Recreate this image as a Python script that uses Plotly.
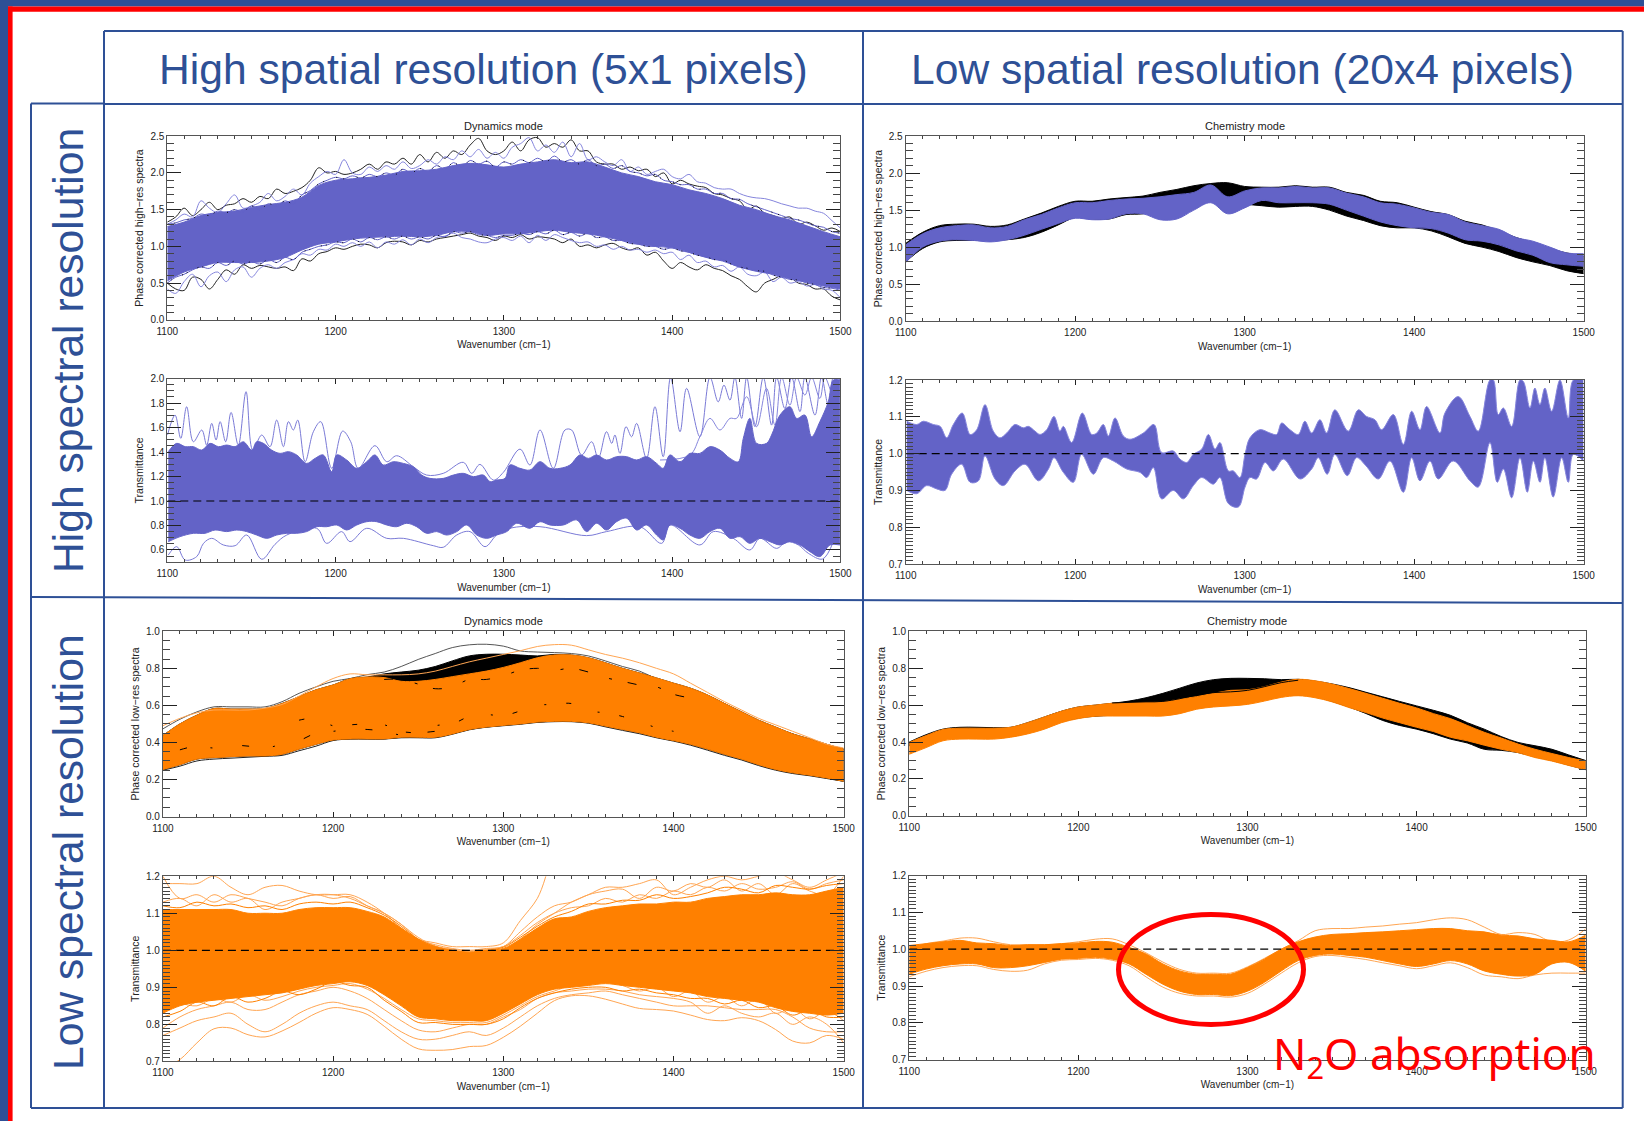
import plotly.graph_objects as go

WN10 = list(range(1100, 1510, 10))
WN5 = list(range(1100, 1505, 5))

# --- High spectral / high spatial : spectra
hi_dyn_upper = [1.27,1.33,1.42,1.46,1.48,1.53,1.57,1.60,1.67,1.83,1.90,1.92,1.94,1.97,2.02,2.03,2.05,2.10,2.13,2.11,2.08,2.12,2.15,2.18,2.14,2.15,2.08,2.00,1.95,1.88,1.84,1.77,1.72,1.65,1.56,1.50,1.42,1.36,1.28,1.20,1.13]
hi_dyn_lower = [0.53,0.65,0.72,0.78,0.78,0.78,0.80,0.85,0.95,1.03,1.06,1.10,1.12,1.13,1.14,1.13,1.15,1.20,1.20,1.15,1.17,1.17,1.20,1.22,1.19,1.17,1.13,1.08,1.03,1.00,0.98,0.92,0.85,0.80,0.72,0.66,0.62,0.56,0.51,0.46,0.42]
hi_dyn_fuzz_top = [1.30,1.32,1.36,1.38,1.44,1.42,1.48,1.46,1.50,1.47,1.55,1.50,1.58,1.55,1.62,1.58,1.70,1.76,1.85,1.90,1.94,1.92,1.96,1.93,1.98,1.95,2.00,1.97,2.05,2.00,2.06,2.02,2.10,2.05,2.14,2.08,2.17,2.12,2.16,2.08,2.15,2.12,2.18,2.14,2.20,2.15,2.23,2.15,2.18,2.12,2.18,2.10,2.12,2.06,2.10,2.02,2.00,1.96,1.98,1.90,1.88,1.84,1.84,1.78,1.78,1.72,1.72,1.65,1.64,1.58,1.54,1.50,1.46,1.42,1.38,1.36,1.32,1.28,1.26,1.20,1.18]
hi_dyn_fuzz_bot = [0.50,0.58,0.62,0.68,0.72,0.70,0.78,0.74,0.80,0.76,0.79,0.76,0.82,0.78,0.85,0.82,0.92,0.96,1.00,1.02,1.06,1.05,1.10,1.06,1.12,1.09,1.13,1.10,1.14,1.10,1.13,1.10,1.15,1.13,1.20,1.18,1.20,1.16,1.15,1.12,1.15,1.15,1.18,1.16,1.20,1.17,1.22,1.16,1.19,1.14,1.18,1.12,1.13,1.08,1.08,1.04,1.03,1.00,1.00,0.96,0.98,0.94,0.92,0.88,0.86,0.82,0.82,0.76,0.72,0.70,0.67,0.66,0.61,0.58,0.55,0.54,0.50,0.48,0.44,0.43,0.40]
hi_dyn_black_top = [1.33,1.40,1.52,1.42,1.50,1.60,1.50,1.56,1.58,1.65,1.60,1.68,1.65,1.78,1.72,1.75,1.80,1.90,2.07,2.00,2.02,1.98,2.00,2.05,2.12,2.05,2.15,2.12,2.20,2.12,2.25,2.15,2.28,2.20,2.30,2.25,2.38,2.47,2.30,2.25,2.30,2.42,2.30,2.45,2.48,2.35,2.40,2.35,2.45,2.30,2.30,2.15,2.12,2.12,2.05,2.08,2.03,2.05,1.95,2.00,1.85,1.90,1.85,1.82,1.80,1.72,1.70,1.65,1.62,1.50,1.55,1.45,1.42,1.38,1.40,1.30,1.33,1.28,1.22,1.25,1.20]
hi_dyn_black_bot = [0.50,0.42,0.40,0.58,0.55,0.42,0.55,0.68,0.62,0.75,0.70,0.74,0.72,0.70,0.72,0.67,0.83,0.80,0.90,0.93,0.98,0.96,1.00,1.03,1.02,0.98,1.05,1.07,1.06,1.02,1.08,1.06,1.10,1.12,1.14,1.16,1.18,1.14,1.12,1.08,1.14,1.12,1.16,1.10,1.13,1.12,1.10,1.05,1.10,1.00,1.02,0.98,1.02,1.04,0.98,0.95,0.98,0.88,0.92,0.80,0.70,0.78,0.72,0.68,0.75,0.70,0.67,0.60,0.55,0.45,0.38,0.50,0.55,0.60,0.58,0.50,0.48,0.42,0.42,0.32,0.27]
hi_dyn_violet_top = [1.30,1.36,1.44,1.40,1.62,1.52,1.46,1.58,1.70,1.52,1.55,1.60,1.72,1.62,1.68,1.78,1.70,1.86,1.95,2.02,1.98,2.18,2.00,1.98,2.08,2.02,2.10,2.05,2.15,2.06,2.10,2.18,2.12,2.22,2.18,2.30,2.22,2.32,2.20,2.28,2.20,2.35,2.40,2.48,2.30,2.38,2.28,2.42,2.22,2.40,2.18,2.22,2.15,2.10,2.18,2.02,2.08,1.98,2.02,2.05,1.95,1.92,1.98,1.88,1.86,1.80,1.78,1.78,1.72,1.68,1.66,1.65,1.62,1.58,1.55,1.52,1.52,1.48,1.45,1.35,1.25]
hi_dyn_violet_bot = [0.42,0.36,0.52,0.62,0.45,0.60,0.65,0.52,0.68,0.72,0.58,0.70,0.75,0.70,0.78,0.82,0.90,0.88,0.96,0.95,1.03,1.00,1.05,1.00,1.06,0.98,1.06,1.03,1.09,1.02,1.10,1.05,1.12,1.14,1.18,1.12,1.10,1.06,1.05,1.10,1.12,1.08,1.14,1.05,1.15,1.08,1.16,1.12,1.08,1.05,1.06,1.00,1.02,0.96,1.00,0.95,0.96,0.92,0.95,0.90,0.92,0.82,0.88,0.78,0.80,0.72,0.74,0.66,0.72,0.62,0.60,0.65,0.52,0.58,0.50,0.52,0.46,0.48,0.42,0.40,0.30]

# --- High spectral / high spatial : transmittance
hi_dyn_tr_up_x = [1100.6,1105.6,1110.6,1115.5,1120.5,1125.4,1130.4,1135.3,1140.3,1145.2,1150.2,1153.1,1157.1,1162,1167,1172,1176.9,1182.8,1187.8,1192.7,1197.7,1200.7,1206.6,1212.6,1218.5,1223.4,1228.4,1234.3,1240.3,1246.2,1251.2,1256.1,1264,1270,1275.9,1281.9,1287.8,1291.8,1295.7,1300.7,1303.6,1309.6,1315.5,1321.5,1327.4,1333.4,1339.3,1345.2,1350.2,1355.1,1361,1367,1373,1378.9,1384.8,1390.8,1394.7,1398.7,1404.7,1410.6,1416.5,1422.5,1428.4,1434.4,1439.3,1442.3,1446.2,1450.2,1456.1,1459.1,1464.1,1470,1474,1478.9,1482.9,1487.8,1492.8,1495.8,1499.7]
hi_dyn_tr_up = [1.403,1.471,1.444,1.444,1.416,1.471,1.444,1.457,1.444,1.484,1.416,1.484,1.471,1.416,1.389,1.403,1.376,1.307,1.348,1.376,1.239,1.376,1.335,1.267,1.321,1.376,1.294,1.321,1.307,1.28,1.212,1.185,1.185,1.212,1.226,1.199,1.212,1.158,1.171,1.185,1.294,1.267,1.253,1.321,1.267,1.267,1.294,1.376,1.348,1.376,1.335,1.362,1.362,1.335,1.362,1.307,1.267,1.376,1.321,1.389,1.389,1.444,1.416,1.348,1.321,1.512,1.675,1.471,1.471,1.539,1.702,1.77,1.675,1.702,1.525,1.648,1.811,1.988,1.988]
hi_dyn_tr_lo_x = [1100.6,1107.6,1115.5,1122.4,1128.4,1135.3,1141.3,1147.2,1153.1,1159.1,1165,1171,1176.9,1182.8,1188.8,1194.7,1200.7,1206.6,1212.6,1218.5,1224.4,1230.4,1236.3,1242.3,1248.2,1254.1,1260.1,1266,1272,1277.9,1283.9,1289.8,1295.7,1301.7,1307.6,1315.5,1321.5,1327.4,1335.3,1343.3,1349.2,1355.1,1361,1367,1373,1378.9,1384.8,1390.8,1394.7,1398.7,1404.7,1410.6,1416.5,1422.5,1428.4,1434.4,1440.3,1446.2,1452.2,1458.1,1464.1,1470,1476,1481.9,1487.8,1493.8,1499.7]
hi_dyn_tr_lo = [0.668,0.709,0.736,0.736,0.763,0.75,0.763,0.75,0.722,0.695,0.722,0.736,0.736,0.75,0.79,0.79,0.804,0.763,0.804,0.831,0.831,0.804,0.79,0.818,0.79,0.736,0.75,0.722,0.75,0.804,0.722,0.695,0.722,0.75,0.818,0.777,0.831,0.804,0.804,0.845,0.75,0.818,0.763,0.831,0.859,0.763,0.804,0.722,0.682,0.804,0.777,0.722,0.695,0.75,0.777,0.695,0.709,0.654,0.695,0.668,0.641,0.668,0.641,0.586,0.546,0.641,0.641]
hi_dyn_tr_line_top_x = [1100.1,1104.6,1108,1111.5,1115.5,1120.5,1123.4,1126.4,1129,1131.4,1134.7,1137.9,1142.2,1146.8,1150.8,1156.1,1161,1165,1169,1172,1174.9,1177.5,1181.9,1186.8,1191.2,1197.7,1204.2,1209,1213.5,1223.4,1230.4,1236.3,1246.2,1254.1,1264,1275.9,1280.9,1285.8,1293.8,1299.7,1309.6,1315.5,1321.5,1329.4,1336.3,1340.3,1346.2,1352.2,1356.1,1361,1364.1,1366,1369,1372.6,1375.9,1378.9,1384.8,1389.8,1394.7,1399.1,1404.7,1408.6,1416.5,1422.5,1427.4,1430.8,1434.4,1437.3,1441.3,1444.3,1449.2,1454.2,1459.1,1462.1,1467,1471,1476,1478.9,1484.9,1488.8,1492.8,1495.8,1499.7]
hi_dyn_tr_line_top = [1.539,1.702,1.512,1.77,1.484,1.58,1.457,1.634,1.498,1.648,1.484,1.724,1.457,1.893,1.416,1.539,1.444,1.661,1.444,1.648,1.58,1.661,1.321,1.566,1.648,1.267,1.571,1.484,1.267,1.452,1.321,1.37,1.28,1.212,1.226,1.316,1.226,1.299,1.171,1.234,1.424,1.294,1.58,1.267,1.58,1.58,1.376,1.484,1.348,1.566,1.471,1.539,1.389,1.607,1.525,1.634,1.348,1.77,1.362,2.01,1.566,1.92,1.525,2.01,1.81,1.947,1.824,2.01,1.675,2.01,1.607,2.01,1.62,2.01,1.756,2.01,1.73,2.01,1.702,2.01,1.784,2.01,1.865]
hi_dyn_tr_line_2_x = [1392.8,1410.6,1416.5,1422.5,1428.4,1434.4,1438.3,1444.3,1450.2,1456.1,1461.1,1465.1,1470,1474,1478.9,1482.9,1487.8,1490.8,1495.8,1499.7]
hi_dyn_tr_line_2 = [1.335,1.376,1.525,1.675,1.58,1.675,1.675,1.852,1.607,1.92,1.62,2.01,1.784,2.01,1.865,2.01,1.838,2.01,1.865,2.01]
hi_dyn_tr_line_bot_x = [1100.6,1105.6,1110.6,1117.5,1121.5,1126.4,1133.3,1140.3,1147.2,1156.1,1164,1171,1188.8,1194.7,1203.6,1208.6,1218.5,1230.4,1240.3,1258.1,1264,1272,1279.9,1288.8,1295.7,1303.6,1321.5,1349.2,1361,1380.9,1393.8,1398.7,1416.5,1424.5,1436.3,1446.2,1452.2,1462.1,1468,1475,1480.9,1489.4,1495.8]
hi_dyn_tr_line_bot = [0.559,0.627,0.518,0.546,0.654,0.695,0.641,0.635,0.722,0.524,0.646,0.722,0.777,0.654,0.75,0.668,0.777,0.695,0.695,0.635,0.622,0.722,0.75,0.627,0.722,0.777,0.79,0.717,0.75,0.79,0.654,0.804,0.641,0.75,0.695,0.6,0.695,0.613,0.668,0.641,0.573,0.526,0.668]

# --- High spectral / low spatial : spectra
hi_chem_upper = [1.03,1.18,1.26,1.29,1.30,1.26,1.28,1.37,1.44,1.53,1.60,1.60,1.63,1.65,1.66,1.68,1.71,1.74,1.84,1.68,1.76,1.80,1.80,1.82,1.80,1.80,1.73,1.68,1.60,1.58,1.53,1.47,1.44,1.34,1.29,1.24,1.13,1.08,1.00,0.92,0.91]
hi_chem_lower = [0.79,1.00,1.08,1.10,1.09,1.07,1.10,1.16,1.24,1.32,1.39,1.37,1.38,1.45,1.45,1.37,1.38,1.50,1.60,1.45,1.53,1.63,1.60,1.60,1.60,1.58,1.50,1.42,1.34,1.29,1.26,1.25,1.19,1.10,1.08,1.03,0.95,0.89,0.79,0.76,0.74]
hi_chem_black_upper = [1.05,1.20,1.29,1.31,1.31,1.28,1.30,1.38,1.46,1.55,1.62,1.62,1.65,1.67,1.69,1.74,1.78,1.83,1.86,1.87,1.82,1.81,1.81,1.83,1.81,1.81,1.74,1.70,1.62,1.60,1.54,1.48,1.44,1.35,1.30,1.22,1.13,1.06,0.98,0.92,0.88]
hi_chem_black_lower = [0.80,0.98,1.07,1.09,1.09,1.09,1.10,1.13,1.20,1.30,1.40,1.38,1.38,1.44,1.45,1.50,1.52,1.58,1.62,1.60,1.58,1.56,1.54,1.55,1.55,1.50,1.42,1.36,1.29,1.26,1.26,1.22,1.14,1.05,1.00,0.94,0.86,0.80,0.75,0.68,0.64]

# --- High spectral / low spatial : transmittance
hi_chem_tr_up_x = [1100.6,1106.5,1110.4,1116.3,1120.3,1124.2,1128.1,1133.4,1138,1141.9,1146.8,1151.7,1155.7,1159.6,1164.5,1169.4,1172.4,1176.3,1179.3,1183.2,1187.5,1191,1193,1197.9,1204.2,1209.7,1212.7,1216.6,1219.6,1223.5,1228.4,1232.3,1240.2,1246.5,1251,1257.9,1261.8,1265.8,1269.7,1274.6,1278.6,1282.5,1285.4,1290.4,1293.3,1297.2,1300.2,1303.1,1309,1314.9,1318.8,1321.8,1326.7,1331.6,1335.5,1339.5,1344.4,1348.3,1353.2,1361.1,1367,1371.9,1376.8,1380.8,1387.7,1393.6,1398.5,1403.4,1407.3,1415.2,1418.1,1426,1432.9,1437.8,1444.7,1446.7,1449.6,1452.6,1457.5,1462.4,1464.4,1468.3,1471.2,1474.2,1477.1,1481.1,1486,1490.9,1493.9,1499.8]
hi_chem_tr_up = [1.088,1.079,1.088,1.079,1.074,1.043,1.079,1.11,1.052,1.065,1.133,1.061,1.043,1.056,1.079,1.07,1.074,1.061,1.052,1.065,1.101,1.061,1.074,1.03,1.11,1.052,1.056,1.079,1.048,1.097,1.048,1.039,1.056,1.079,1.003,1.007,0.985,0.976,0.998,1.012,1.052,1.012,1.03,0.953,0.953,0.935,0.998,1.043,1.065,1.056,1.052,1.083,1.065,1.052,1.088,1.056,1.092,1.056,1.119,1.061,1.119,1.101,1.092,1.065,1.106,1.025,1.115,1.065,1.128,1.056,1.11,1.155,1.101,1.061,1.2,1.2,1.106,1.124,1.074,1.2,1.196,1.124,1.178,1.133,1.178,1.115,1.2,1.097,1.2,1.2]
hi_chem_tr_lo_x = [1100.6,1106.5,1112.4,1118.3,1123.2,1127.1,1133,1138,1142.9,1146.8,1152.7,1157.6,1164.5,1170.4,1178.3,1184.2,1187.5,1193,1198.9,1203.8,1210.7,1216.6,1222.5,1230.4,1238.2,1242.2,1246.1,1251,1257.9,1263.8,1269.7,1274.6,1281.5,1285.4,1290.4,1296.3,1300.2,1303.1,1307,1312,1316.9,1322.8,1332.6,1339.5,1343.4,1348.7,1353.2,1360.5,1366,1371.5,1378.8,1385.7,1393.6,1398.5,1403.4,1409.3,1414.2,1423,1432.9,1437.8,1444.7,1449,1452.6,1457.5,1462.4,1466.7,1470.3,1474.2,1477.1,1482,1487,1490.9,1493.9,1499.8]
hi_chem_tr_lo = [0.90,0.891,0.913,0.904,0.90,0.944,0.971,0.922,0.926,0.994,0.931,0.913,0.953,0.971,0.926,0.958,0.989,0.949,0.922,0.998,0.944,0.989,0.98,0.958,0.949,0.935,0.962,0.877,0.90,0.877,0.913,0.935,0.917,0.935,0.864,0.855,0.909,0.935,0.931,0.976,0.953,0.985,0.931,0.958,0.989,0.944,0.998,0.94,0.989,0.967,0.931,0.98,0.895,0.989,0.926,0.98,0.931,0.98,0.926,0.909,1.03,0.922,0.958,0.88,0.989,0.895,0.98,0.922,0.989,0.882,0.989,0.922,0.998,0.98]

# --- Low spectral / high spatial : spectra
lo_dyn_upper = [0.437,0.50,0.547,0.583,0.58,0.58,0.583,0.61,0.647,0.684,0.71,0.744,0.753,0.75,0.73,0.73,0.74,0.755,0.77,0.785,0.805,0.83,0.857,0.872,0.872,0.857,0.83,0.80,0.775,0.748,0.72,0.693,0.656,0.61,0.565,0.52,0.483,0.446,0.419,0.39,0.364]
lo_dyn_lower = [0.254,0.28,0.31,0.318,0.323,0.327,0.327,0.336,0.364,0.39,0.413,0.419,0.419,0.419,0.428,0.428,0.428,0.446,0.47,0.483,0.492,0.50,0.51,0.514,0.514,0.506,0.488,0.47,0.452,0.428,0.41,0.39,0.364,0.336,0.31,0.28,0.254,0.236,0.223,0.208,0.19]
lo_dyn_black_mass = [0.437,0.50,0.547,0.583,0.58,0.58,0.583,0.61,0.647,0.684,0.71,0.744,0.753,0.77,0.78,0.79,0.81,0.84,0.867,0.876,0.876,0.872,0.867,0.875,0.872,0.857,0.83,0.80,0.775,0.748,0.72,0.693,0.656,0.61,0.565,0.52,0.483,0.446,0.419,0.39,0.364]
lo_dyn_black_top = [0.473,0.525,0.565,0.592,0.592,0.592,0.592,0.62,0.665,0.70,0.73,0.745,0.766,0.78,0.81,0.848,0.88,0.912,0.927,0.93,0.92,0.894,0.888,0.885,0.88,0.867,0.84,0.81,0.785,0.744,0.71,0.675,0.638,0.59,0.547,0.51,0.473,0.446,0.41,0.386,0.364]
lo_dyn_black_bot = [0.25,0.272,0.30,0.31,0.315,0.32,0.325,0.33,0.355,0.38,0.41,0.418,0.418,0.418,0.425,0.425,0.425,0.444,0.468,0.482,0.49,0.498,0.508,0.512,0.512,0.504,0.484,0.465,0.447,0.425,0.407,0.385,0.358,0.33,0.305,0.275,0.25,0.232,0.22,0.205,0.19]
lo_dyn_orange_top = [0.49,0.53,0.56,0.575,0.575,0.575,0.585,0.605,0.65,0.70,0.745,0.77,0.765,0.765,0.765,0.77,0.785,0.81,0.835,0.855,0.875,0.895,0.918,0.928,0.925,0.90,0.875,0.855,0.83,0.80,0.77,0.72,0.67,0.62,0.575,0.53,0.495,0.46,0.425,0.39,0.37]
lo_dyn_inner_x1 = [1180,1190,1200,1210,1220,1230,1240,1250,1260,1270,1280,1290,1300,1310,1320,1330,1340,1350,1360,1370,1380,1390,1400]
lo_dyn_inner_y1 = [0.52,0.53,0.49,0.495,0.50,0.495,0.46,0.455,0.49,0.50,0.54,0.55,0.545,0.57,0.60,0.605,0.61,0.57,0.56,0.54,0.51,0.48,0.46]
lo_dyn_inner_x2 = [1230,1240,1250,1260,1270,1280,1290,1300,1310,1320,1330,1340,1350,1360,1370,1380,1390,1400,1410]
lo_dyn_inner_y2 = [0.74,0.74,0.715,0.69,0.70,0.74,0.74,0.76,0.79,0.80,0.79,0.80,0.78,0.75,0.73,0.71,0.70,0.66,0.64]
lo_dyn_inner_x3 = [1110,1120,1130,1140,1150,1160,1170,1180,1190,1200,1210,1220,1230,1240,1250,1260]
lo_dyn_inner_y3 = [0.36,0.38,0.37,0.385,0.38,0.37,0.39,0.41,0.45,0.46,0.47,0.47,0.46,0.44,0.45,0.46]

# --- Low spectral / high spatial : transmittance
lo_dyn_tr_upper = [1.11,1.11,1.11,1.11,1.11,1.10,1.10,1.10,1.11,1.115,1.115,1.115,1.105,1.09,1.06,1.03,1.01,1.00,0.995,1.00,1.005,1.03,1.06,1.085,1.09,1.105,1.115,1.12,1.125,1.125,1.13,1.13,1.14,1.145,1.15,1.15,1.155,1.15,1.15,1.16,1.17]
lo_dyn_tr_lower = [0.83,0.85,0.86,0.865,0.87,0.875,0.88,0.885,0.895,0.905,0.91,0.915,0.905,0.88,0.85,0.82,0.815,0.81,0.81,0.81,0.83,0.855,0.88,0.895,0.90,0.905,0.91,0.905,0.90,0.895,0.89,0.885,0.875,0.87,0.865,0.86,0.845,0.835,0.83,0.825,0.83]
lo_dyn_tr_fuzz_top1 = [1.13,1.14,1.12,1.15,1.13,1.14,1.11,1.13,1.14,1.15,1.14,1.145,1.12,1.10,1.07,1.035,1.012,1.003,0.998,1.003,1.01,1.04,1.075,1.10,1.115,1.12,1.14,1.13,1.15,1.14,1.16,1.15,1.17,1.16,1.18,1.165,1.17,1.185,1.165,1.18,1.19]
lo_dyn_tr_fuzz_top2 = [1.12,1.115,1.13,1.12,1.125,1.115,1.12,1.11,1.125,1.13,1.125,1.13,1.115,1.095,1.065,1.03,1.01,1.00,0.995,1.00,1.008,1.035,1.065,1.09,1.105,1.125,1.125,1.135,1.135,1.15,1.14,1.145,1.155,1.17,1.165,1.155,1.175,1.17,1.165,1.175,1.18]
lo_dyn_tr_fuzz_low1 = [0.84,0.855,0.85,0.87,0.86,0.88,0.865,0.875,0.89,0.90,0.905,0.91,0.895,0.87,0.84,0.815,0.81,0.805,0.805,0.805,0.825,0.85,0.875,0.89,0.905,0.91,0.915,0.905,0.89,0.90,0.875,0.89,0.86,0.875,0.85,0.87,0.83,0.845,0.815,0.835,0.81]
lo_dyn_tr_fuzz_low2 = [0.82,0.835,0.86,0.85,0.875,0.86,0.87,0.89,0.88,0.895,0.915,0.905,0.90,0.865,0.835,0.805,0.805,0.80,0.80,0.80,0.815,0.845,0.87,0.885,0.895,0.90,0.90,0.89,0.895,0.885,0.88,0.87,0.87,0.855,0.865,0.845,0.85,0.825,0.84,0.82,0.82]
lo_dyn_tr_low1 = [0.68,0.705,0.75,0.788,0.79,0.772,0.766,0.782,0.805,0.83,0.845,0.84,0.827,0.795,0.76,0.734,0.73,0.732,0.74,0.743,0.765,0.795,0.83,0.864,0.877,0.877,0.868,0.855,0.843,0.84,0.836,0.825,0.813,0.81,0.818,0.81,0.786,0.755,0.75,0.77,0.76]
lo_dyn_tr_low2 = [0.77,0.79,0.81,0.82,0.83,0.80,0.78,0.80,0.83,0.85,0.86,0.85,0.84,0.81,0.78,0.76,0.76,0.77,0.78,0.77,0.79,0.82,0.85,0.87,0.88,0.885,0.89,0.88,0.87,0.86,0.85,0.85,0.85,0.845,0.84,0.84,0.84,0.82,0.79,0.78,0.78]
lo_dyn_tr_low3 = [0.79,0.82,0.84,0.85,0.86,0.84,0.84,0.86,0.88,0.89,0.90,0.89,0.87,0.84,0.81,0.785,0.78,0.79,0.80,0.80,0.82,0.84,0.87,0.885,0.89,0.895,0.895,0.89,0.88,0.875,0.87,0.86,0.83,0.85,0.83,0.82,0.83,0.80,0.82,0.80,0.75]
lo_dyn_tr_top1_x = [1100,1110,1120,1130,1140,1150,1160,1170,1180,1190,1200,1210,1220,1230,1240,1250,1260,1270,1280,1290,1300,1310,1320,1325]
lo_dyn_tr_top1 = [1.18,1.18,1.18,1.20,1.17,1.15,1.17,1.175,1.16,1.15,1.15,1.15,1.13,1.10,1.06,1.03,1.02,1.01,1.01,1.01,1.02,1.08,1.14,1.20]
lo_dyn_tr_top2_x = [1290,1300,1310,1320,1330,1340,1350,1360,1370,1380,1390,1400,1410,1420,1430,1440,1450,1460,1470,1480,1490,1500]
lo_dyn_tr_top2 = [1.00,1.00,1.03,1.07,1.10,1.13,1.15,1.17,1.17,1.18,1.19,1.15,1.17,1.19,1.20,1.19,1.20,1.21,1.19,1.17,1.19,1.21]
lo_dyn_tr_top3 = [1.20,1.14,1.15,1.13,1.15,1.14,1.13,1.12,1.14,1.15,1.15,1.14,1.12,1.10,1.07,1.03,1.015,1.005,1.00,1.005,1.01,1.05,1.09,1.12,1.13,1.15,1.16,1.165,1.14,1.17,1.16,1.18,1.17,1.19,1.16,1.18,1.15,1.18,1.16,1.15,1.20]

# --- Low spectral / low spatial : spectra
lo_chem_upper = [0.398,0.435,0.468,0.475,0.475,0.475,0.48,0.505,0.536,0.567,0.59,0.60,0.61,0.613,0.615,0.618,0.633,0.646,0.664,0.68,0.683,0.70,0.725,0.74,0.732,0.714,0.69,0.664,0.637,0.61,0.585,0.554,0.527,0.49,0.453,0.422,0.389,0.361,0.338,0.316,0.297]
lo_chem_lower = [0.334,0.37,0.407,0.416,0.416,0.416,0.426,0.444,0.47,0.505,0.527,0.54,0.541,0.541,0.541,0.541,0.554,0.578,0.59,0.596,0.604,0.622,0.642,0.651,0.64,0.618,0.587,0.56,0.53,0.505,0.48,0.457,0.426,0.407,0.383,0.361,0.343,0.316,0.297,0.273,0.251]
lo_chem_black_top = [0.40,0.44,0.47,0.48,0.48,0.478,0.48,0.505,0.536,0.567,0.59,0.60,0.61,0.622,0.64,0.664,0.692,0.72,0.738,0.745,0.745,0.743,0.738,0.74,0.73,0.715,0.695,0.67,0.645,0.62,0.596,0.572,0.545,0.505,0.47,0.43,0.398,0.38,0.361,0.33,0.30]
lo_chem_black_bot = [0.38,0.40,0.42,0.43,0.43,0.43,0.43,0.45,0.48,0.51,0.53,0.54,0.545,0.55,0.56,0.57,0.58,0.60,0.61,0.62,0.63,0.65,0.66,0.655,0.646,0.62,0.59,0.555,0.517,0.49,0.47,0.445,0.416,0.395,0.361,0.355,0.343,0.32,0.30,0.275,0.25]
lo_chem_edge_x = [1220,1230,1240,1250,1260,1270,1280,1290,1300,1310,1320,1330]
lo_chem_black_edge = [0.612,0.615,0.618,0.62,0.635,0.655,0.668,0.672,0.68,0.70,0.722,0.735]

# --- Low spectral / low spatial : transmittance
lo_chem_tr_upper = [1.01,1.015,1.02,1.024,1.017,1.015,1.01,1.012,1.012,1.015,1.017,1.021,1.019,1.005,0.987,0.96,0.941,0.932,0.932,0.932,0.95,0.973,1.00,1.02,1.033,1.04,1.042,1.045,1.047,1.05,1.053,1.056,1.056,1.05,1.047,1.038,1.036,1.028,1.024,1.02,1.038]
lo_chem_tr_lower = [0.932,0.946,0.955,0.96,0.96,0.95,0.95,0.955,0.964,0.973,0.975,0.978,0.973,0.96,0.932,0.905,0.886,0.877,0.877,0.874,0.886,0.91,0.941,0.969,0.983,0.987,0.983,0.978,0.969,0.96,0.953,0.96,0.969,0.96,0.941,0.932,0.927,0.932,0.96,0.964,0.94]
lo_chem_tr_top = [1.00,1.015,1.022,1.03,1.03,1.02,1.012,1.012,1.012,1.015,1.02,1.027,1.028,1.012,0.99,0.965,0.945,0.935,0.935,0.935,0.952,0.975,1.00,1.023,1.05,1.056,1.056,1.06,1.063,1.068,1.072,1.08,1.085,1.08,1.06,1.04,1.045,1.04,1.02,1.025,1.055]
lo_chem_tr_bot = [0.925,0.94,0.95,0.955,0.955,0.945,0.94,0.943,0.96,0.97,0.972,0.975,0.97,0.955,0.925,0.897,0.88,0.873,0.873,0.87,0.88,0.905,0.935,0.963,0.98,0.983,0.978,0.972,0.963,0.955,0.947,0.955,0.963,0.95,0.93,0.925,0.92,0.93,0.935,0.935,0.935]

UNITY = [1.0, 1.0]
WN_ENDS = [1100, 1500]

XLABEL = "Wavenumber (cm\u22121)"
TITLES = ["Dynamics mode", "Chemistry mode"]

# ---------- styling ----------
W, H = 1644, 1121
BLUE = "#2e5096"
RED = "#ff0000"
VIOLET = "#6363c7"
VIOLET_L = "#8585dc"
ORANGE = "#ff8000"
ORANGE_L = "#ffa552"
BLACK = "#000000"
GRAY = "#555555"
SMALL = "Liberation Sans"

fig = go.Figure()


def band(ax, xl, yl, xu, yu, color, edge=None):
    e = edge or color
    fig.add_trace(go.Scatter(x=xl, y=yl, mode="lines", line=dict(color=e, width=1, shape="spline", smoothing=1), xaxis="x" + ax, yaxis="y" + ax, showlegend=False, hoverinfo="skip"))
    fig.add_trace(go.Scatter(x=xu, y=yu, mode="lines", line=dict(color=e, width=1, shape="spline", smoothing=1), fill="tonexty", fillcolor=color, xaxis="x" + ax, yaxis="y" + ax, showlegend=False, hoverinfo="skip"))


def line(ax, x, y, color, width=1, dash="solid", spline=True):
    fig.add_trace(go.Scatter(x=x, y=y, mode="lines", line=dict(color=color, width=width, dash=dash, shape="spline" if spline else "linear", smoothing=1), xaxis="x" + ax, yaxis="y" + ax, showlegend=False, hoverinfo="skip"))


def unity(ax):
    line(ax, WN_ENDS, UNITY, BLACK, 1.2, "8px,5px", False)


# panel 1
line("1", WN5, hi_dyn_black_top, "#222222")
line("1", WN5, hi_dyn_black_bot, "#222222")
line("1", WN5, hi_dyn_violet_top, VIOLET_L)
line("1", WN5, hi_dyn_violet_bot, VIOLET_L)
band("1", WN10, hi_dyn_lower, WN10, hi_dyn_upper, VIOLET)
line("1", WN5, hi_dyn_fuzz_top, VIOLET)
line("1", WN5, hi_dyn_fuzz_bot, VIOLET)
line("1", WN5, hi_dyn_fuzz_top, BLACK, 1, "1px,6px,1px,13px")
line("1", WN5, hi_dyn_fuzz_bot, BLACK, 1, "1px,4px,1px,11px")
# panel 2
line("2", hi_dyn_tr_line_top_x, hi_dyn_tr_line_top, "#7a7ad6")
line("2", hi_dyn_tr_line_2_x, hi_dyn_tr_line_2, VIOLET_L)
line("2", hi_dyn_tr_line_bot_x, hi_dyn_tr_line_bot, "#7a7ad6")
band("2", hi_dyn_tr_lo_x, hi_dyn_tr_lo, hi_dyn_tr_up_x, hi_dyn_tr_up, VIOLET)
unity("2")
# panel 3
band("3", WN10, hi_chem_black_lower, WN10, hi_chem_black_upper, BLACK)
band("3", WN10, hi_chem_lower, WN10, hi_chem_upper, VIOLET)
# panel 4
band("4", hi_chem_tr_lo_x, hi_chem_tr_lo, hi_chem_tr_up_x, hi_chem_tr_up, VIOLET, VIOLET_L)
unity("4")
# panel 5
line("5", WN10, lo_dyn_black_top, GRAY)
line("5", WN10, lo_dyn_black_bot, "#222222")
band("5", WN10, lo_dyn_lower, WN10, lo_dyn_black_mass, BLACK)
band("5", WN10, lo_dyn_lower, WN10, lo_dyn_upper, ORANGE)
line("5", WN10, lo_dyn_orange_top, ORANGE_L)
line("5", lo_dyn_inner_x1, lo_dyn_inner_y1, BLACK, 1, "5px,28px,2px,20px")
line("5", lo_dyn_inner_x2, lo_dyn_inner_y2, BLACK, 1, "9px,22px,3px,16px")
line("5", lo_dyn_inner_x3, lo_dyn_inner_y3, BLACK, 1, "7px,24px,2px,30px")
# panel 6
line("6", WN10, lo_dyn_tr_low1, ORANGE_L)
line("6", WN10, lo_dyn_tr_low2, ORANGE_L)
line("6", WN10, lo_dyn_tr_low3, ORANGE_L)
line("6", lo_dyn_tr_top1_x, lo_dyn_tr_top1, ORANGE_L)
line("6", lo_dyn_tr_top2_x, lo_dyn_tr_top2, ORANGE_L)
line("6", WN10, lo_dyn_tr_top3, ORANGE_L)
line("6", WN10, lo_dyn_tr_fuzz_top1, ORANGE_L)
line("6", WN10, lo_dyn_tr_fuzz_low1, ORANGE_L)
band("6", WN10, lo_dyn_tr_lower, WN10, lo_dyn_tr_upper, ORANGE)
line("6", WN10, lo_dyn_tr_fuzz_top2, ORANGE)
line("6", WN10, lo_dyn_tr_fuzz_low2, ORANGE)
unity("6")
# panel 7
band("7", WN10, lo_chem_black_bot, WN10, lo_chem_black_top, BLACK)
band("7", WN10, lo_chem_lower, WN10, lo_chem_upper, ORANGE)
line("7", lo_chem_edge_x, lo_chem_black_edge, BLACK, 1)
# panel 8
line("8", WN10, lo_chem_tr_top, ORANGE_L)
line("8", WN10, lo_chem_tr_bot, ORANGE_L)
band("8", WN10, lo_chem_tr_lower, WN10, lo_chem_tr_upper, ORANGE)
unity("8")

# ---------- axes ----------
PANELS = {
    "1": dict(px=(167.3, 840.4, 136.2, 319.8), yr=[0, 2.5], major=0.5, minor=0.1, ytitle="Phase corrected high\u2212res spectra"),
    "2": dict(px=(167.3, 840.4, 378.6, 562.2), yr=[0.5, 2.0], major=0.2, minor=0.05, ytitle="Transmittance"),
    "3": dict(px=(905.7, 1583.7, 136.2, 321.0), yr=[0, 2.5], major=0.5, minor=0.1, ytitle="Phase corrected high\u2212res spectra"),
    "4": dict(px=(905.7, 1583.7, 380.0, 564.0), yr=[0.7, 1.2], major=0.1, minor=0.01, ytitle="Transmittance"),
    "5": dict(px=(162.9, 843.7, 631.3, 816.5), yr=[0, 1.0], major=0.2, minor=0.05, ytitle="Phase corrected low\u2212res spectra"),
    "6": dict(px=(162.9, 843.7, 876.2, 1061.4), yr=[0.7, 1.2], major=0.1, minor=0.01, ytitle="Transmittance"),
    "7": dict(px=(909.2, 1585.7, 631.3, 815.9), yr=[0, 1.0], major=0.2, minor=0.05, ytitle="Phase corrected low\u2212res spectra"),
    "8": dict(px=(909.2, 1585.7, 875.5, 1059.7), yr=[0.7, 1.2], major=0.1, minor=0.01, ytitle="Transmittance"),
}

annots = []
for k, p in PANELS.items():
    x0, x1, y0, y1 = p["px"]
    suffix = "" if k == "1" else k
    common = dict(showline=True, linecolor=GRAY, linewidth=1, mirror="allticks", ticks="inside", tickcolor="#222222",
                  tickfont=dict(family=SMALL, size=10, color="#222222"), showgrid=False, zeroline=False, automargin=False)
    fig.layout["xaxis" + suffix] = dict(common, domain=[x0 / W, x1 / W], range=[1100, 1500], anchor="y" + k if k != "1" else "y",
                                        tickmode="array", tickvals=[1100, 1200, 1300, 1400, 1500], ticklen=5, tickwidth=1, ticklabelstandoff=2,
                                        minor=dict(dtick=10, ticks="inside", ticklen=3, tickcolor="#444444", showgrid=False),
                                        title=dict(text=XLABEL, font=dict(family=SMALL, size=10, color="#222222"), standoff=5))
    fig.layout["yaxis" + suffix] = dict(common, domain=[1 - y1 / H, 1 - y0 / H], range=p["yr"], anchor="x" + k if k != "1" else "x",
                                        dtick=p["major"], tick0=0, ticklen=14, tickwidth=1, tickformat=".1f",
                                        minor=dict(dtick=p["minor"], tick0=0, ticks="inside", ticklen=7, tickcolor="#444444", showgrid=False),
                                        title=dict(text=p["ytitle"], font=dict(family=SMALL, size=10.5, color="#222222"), standoff=4))
    if k in "1357":
        annots.append(dict(text=TITLES[0] if k in "15" else TITLES[1], xref="paper", yref="paper", x=(x0 + x1) / 2 / W, y=1 - (y0 - 10) / H,
                           showarrow=False, font=dict(family=SMALL, size=11, color="#222222"), xanchor="center", yanchor="middle"))

HEAD = dict(family="Liberation Sans", size=42.6, color=BLUE)
annots += [
    dict(text="High spatial resolution (5x1 pixels)", x=483 / W, y=1 - 69 / H, font=HEAD),
    dict(text="Low spatial resolution (20x4 pixels)", x=1242.6 / W, y=1 - 69 / H, font=HEAD),
    dict(text="High spectral resolution", x=68 / W, y=1 - 351 / H, textangle=-90, font=HEAD),
    dict(text="Low spectral resolution", x=68 / W, y=1 - 852 / H, textangle=-90, font=HEAD),
    dict(text="N<sub>2</sub>O absorption", x=1434 / W, y=1 - 1055 / H, font=dict(family="Noto Sans", size=44, color=RED)),
]
for a in annots:
    a.update(xref="paper", yref="paper", showarrow=False)
    a.setdefault("xanchor", "center")
    a.setdefault("yanchor", "middle")


def rect(x0, y0, x1, y1, color):
    return dict(type="rect", xref="paper", yref="paper", x0=x0 / W, x1=x1 / W, y0=1 - y0 / H, y1=1 - y1 / H, fillcolor=color, line=dict(width=0))


def seg(x0, y0, x1, y1, width=2):
    return dict(type="line", xref="paper", yref="paper", x0=x0 / W, x1=x1 / W, y0=1 - y0 / H, y1=1 - y1 / H, line=dict(color=BLUE, width=width))


shapes = [
    rect(0, 0, W, 6.5, BLUE), rect(8, 6.5, W, 11.7, RED), rect(0, 0, 8, H, BLUE), rect(8, 6.5, 12.6, H, RED),
    seg(104, 31, 1622.7, 31), seg(104, 104, 1622.7, 104), seg(104, 31, 104, 1108), seg(863, 31, 863, 1108),
    seg(1622.7, 31, 1622.7, 1108), seg(31, 103.5, 104, 103.5), seg(31, 103.5, 31, 1108),
    seg(31, 597, 1622.7, 603), seg(31, 1108, 1622.7, 1108),
    dict(type="circle", xref="paper", yref="paper", x0=1118.5 / W, x1=1303.5 / W, y0=1 - 914.5 / H, y1=1 - 1024.5 / H, line=dict(color=RED, width=5)),
]

fig.update_layout(width=W, height=H, margin=dict(l=0, r=0, t=0, b=0, autoexpand=False), autosize=False, paper_bgcolor="white", plot_bgcolor="white",
                  showlegend=False, shapes=shapes, annotations=annots)

fig.write_html("out.html", config=dict(displayModeBar=False), post_script="document.body.style.margin='0';document.body.style.overflow='hidden';")
